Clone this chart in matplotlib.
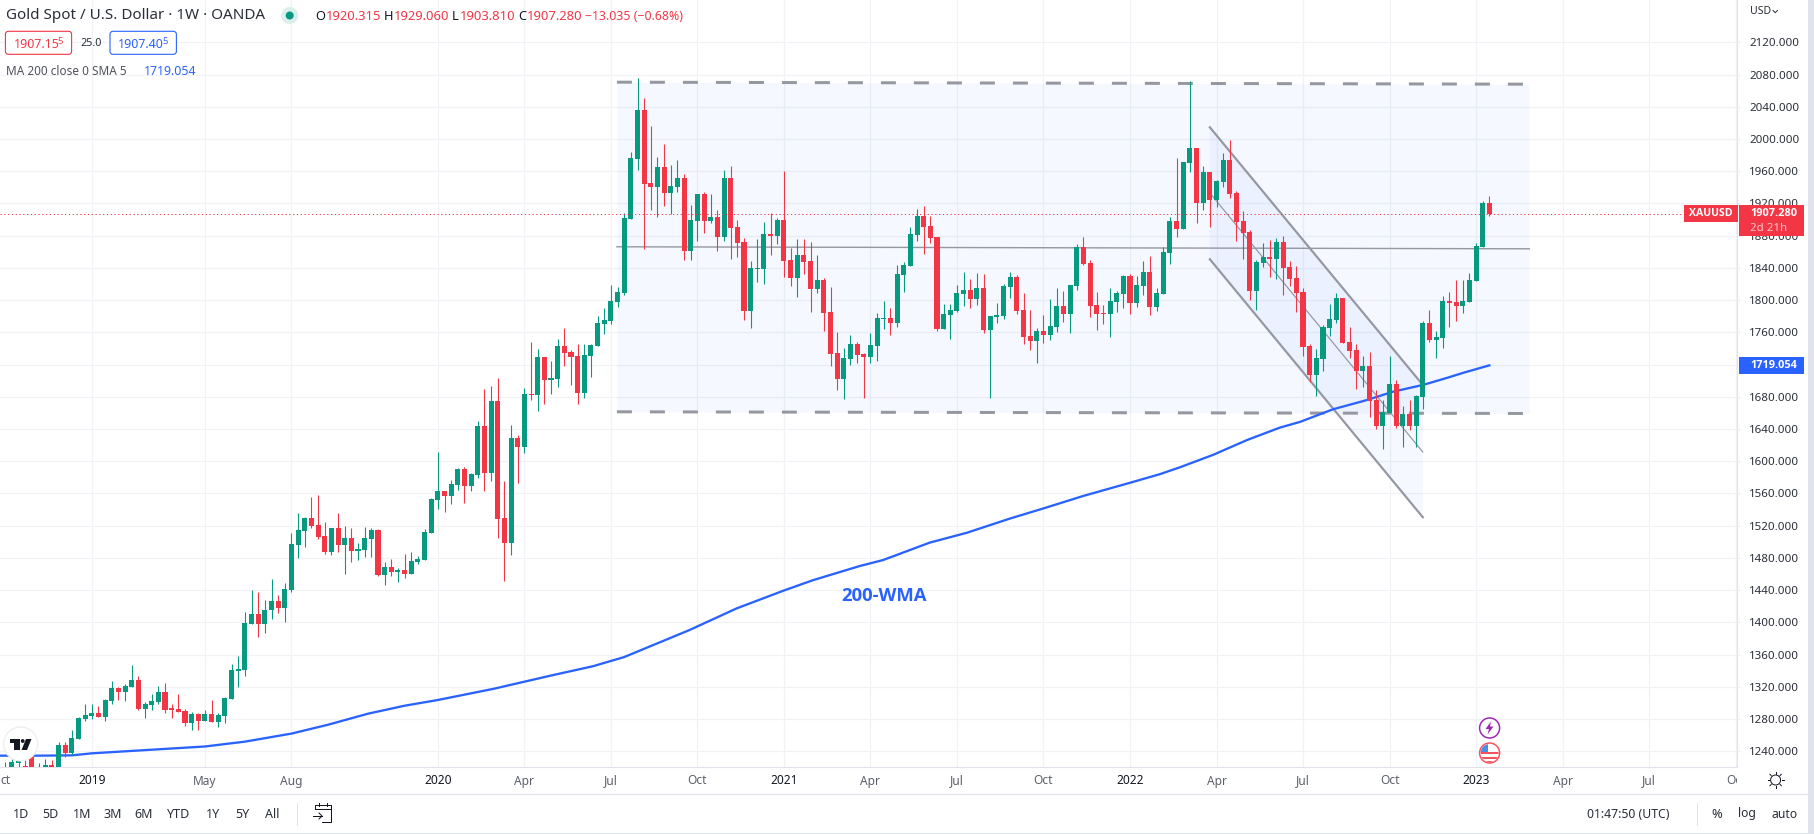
import matplotlib
matplotlib.use("Agg")
import matplotlib.pyplot as plt
from matplotlib.patches import Rectangle, Circle, FancyBboxPatch, Polygon
from matplotlib.transforms import Bbox
import numpy as np

opens = [1200,1215,1225,1222,1233,1212,1218,1223,1215,1248,1237.5,1255.7,1280,1284,1287.6,1282,1303,1318.6,1314,1320,
1328.5,1292.5,1297.5,1301,1313.6,1292.5,1292.5,1290,1275,1286,1277.6,1286,1276,1284,1305,1340,1341,1398,1410,1398,
1415,1427,1418,1440.7,1496.5,1514,1529,1521,1507.7,1488,1517.6,1496.5,1505,1489,1490,1504,1515,1459,1469,1462,
1465.5,1460.6,1475.4,1478,1510.8,1551.8,1563,1556.7,1570.4,1590,1569,1582.8,1643.6,1585,1674.6,1529,1498,1628.7,1617.5,1683.3,
1682,1729,1700.7,1702,1743,1735.4,1730.5,1684.6,1730.5,1743,1770,1774,1797.5,1808.7,1900.5,1975,2035.8,1945,1940,1965,
1932.8,1940,1951.4,1860.8,1898,1931.5,1898,1903,1878,1951.4,1890.6,1872,1786,1838.4,1838.4,1881.9,1879.4,1899,1849.6,1827,
1855.8,1848,1813.6,1824.8,1785,1734,1702,1726.7,1745,1733,1729,1743,1776.4,1777.6,1771.4,1831,1842,1880.6,1904,1891.8,
1878,1764,1781,1786,1807,1812,1801,1814.9,1762.7,1778.9,1780,1816,1828.5,1787.6,1755,1749,1761.5,1756.5,1766.5,1792.5,
1782.6,1817,1865.8,1845.9,1793.8,1783.8,1782.6,1797.5,1807.4,1829.8,1796,1817,1834.7,1791,1807.4,1858,1898,1888,1970,1988.6,
1920,1958.8,1924,1946.4,1973.7,1932.8,1898,1884,1811,1845.9,1853,1850.9,1872,1841,1827,1810,1743,1706.9,1726.7,1765,
1775,1802.5,1747.8,1738,1711.9,1718,1675.9,1643.6,1659.7,1695.7,1643.6,1658.5,1643.6,1679.6,1771.4,1750,1752.8,1798.7,1797.5,1792.5,
1797.5,1823.6,1865.8,1920.315]
highs = [1227,1231,1237,1230,1237.5,1225,1230,1229,1251,1252,1266.5,1282.6,1299,1299,1296,1305,1327,1320,1323.6,1347,
1333.5,1301,1311,1321,1325,1298.7,1311,1292.5,1289,1287.6,1291,1303.7,1287.6,1307.4,1348,1358,1412.5,1440,1438,1428,
1454,1434,1449,1511.4,1536,1531,1556,1558.6,1525,1517.6,1536,1520,1517.6,1499,1519,1517.6,1516,1475.5,1479,1468,
1485,1488,1483,1516.4,1554,1611,1563,1576.6,1591.5,1592.7,1585,1649.8,1689.5,1693,1703,1575,1644.8,1632.4,1690.8,1747.8,
1739,1729,1724,1751.6,1765,1738,1745,1745,1745,1780,1790,1818.6,1816,1908,1983.7,2075.5,2050.7,2016,1977.5,1993.6,
1967.5,1973.7,1956,1918,1931.5,1934,1931.5,1911.7,1961,1966,1899,1877,1848,1875.7,1896.8,1908,1901.7,1960,1864.5,1875.7,
1875.7,1872,1855.8,1827,1816,1760,1740,1756.5,1747.8,1734,1759,1783.8,1798.7,1790,1843.4,1847,1890.6,1913,1916.6,1904,
1878,1795,1795,1818.6,1834.7,1826,1833.5,1832,1780,1796,1819.8,1834.7,1831,1808.7,1787.6,1765,1781,1801,1814.9,1811,
1818.6,1869.5,1878,1849.6,1810,1793.8,1814.9,1811,1831,1832,1829.8,1848,1854.6,1814.9,1865.8,1903,1976.4,1971,2071.8,1988.6,
1966,1958.8,1949,1982.4,1998.5,1935,1910.4,1886.9,1849.6,1870.7,1874.4,1877,1879.4,1848,1842,1814.9,1745,1739,1769,1795,
1808.7,1802.5,1766.5,1745,1730.5,1735.4,1688,1675.9,1730.5,1700.7,1668.4,1675.9,1682,1773.9,1787.6,1761.5,1804.9,1810,1824.8,1824.8,
1833.5,1870.7,1922.8,1929.06]
lows = [1195,1205,1215,1205,1205,1205,1210,1205,1208,1233,1235.5,1255.7,1278,1280,1282,1278,1299,1303.7,1302.5,1320,
1291,1281,1291,1298.7,1287.6,1281,1289,1271,1266.5,1266.5,1277.6,1276,1270,1275,1305,1320,1333.5,1398,1382,1387,
1404,1412,1401,1438,1480,1494,1517.6,1504,1485,1484,1488,1460.6,1475,1478,1481.7,1481.7,1457,1447,1457,1450.6,
1455.6,1460.6,1472,1478,1510.8,1540.6,1536.9,1546.8,1564,1548,1563,1579,1563,1575,1504.6,1451,1483.5,1573,1610,1675.9,
1662,1671,1683,1692,1718,1694.5,1671,1678,1704,1743,1758,1770,1791,1806,1900.5,1961,1863,1911.7,1903,1916.6,
1906.7,1934,1849.6,1849.6,1873,1883,1895.5,1860.8,1874,1851,1853,1775,1765,1822,1819.8,1855.8,1869.5,1828.5,1817,1803.7,
1832,1785,1808.7,1761.5,1718,1688,1677,1719,1721.8,1678,1721.8,1724,1764,1756.5,1766.5,1810,1842,1873,1857,1870.7,
1761.5,1764,1751.6,1785,1792.5,1790,1793.8,1759,1678,1771.4,1776.4,1802.5,1782.6,1745,1738,1721.8,1746.6,1750,1760,1772.7,
1759,1812.4,1843.4,1778.9,1762.7,1770,1754,1785,1790,1782.6,1791,1806,1781,1786,1807.4,1844.7,1878,1888,1958.8,1895.5,
1911.7,1890.6,1915,1940,1926.6,1873,1850.9,1800,1787.6,1841,1828.5,1826,1806,1817,1785,1730.5,1698,1680.8,1711.9,1755,
1771.4,1746.6,1728,1689.5,1692,1654.8,1640,1615,1659.7,1641,1617.5,1638.6,1617.5,1664.7,1747.8,1728,1740,1766.5,1773.9,1783.8,
1797.5,1823.6,1865.8,1903.81]
closes = [1215,1227,1229,1210,1215,1220,1223,1215,1248,1238,1256.5,1281.4,1285,1287.6,1282,1303.7,1318.6,1314,1321,1328.5,
1292.5,1298.7,1302.5,1313.6,1291,1291.7,1289,1275,1286,1277.6,1286,1276,1285,1306,1341,1342,1399,1410,1398,1416,
1427,1418,1441.5,1497.8,1515,1529,1520,1506.5,1488,1517.6,1496.5,1505,1489,1491.6,1505,1515,1459,1469,1462,1465.5,
1460.6,1476.7,1479,1512.7,1553,1563,1556.7,1571.6,1590,1569,1584,1643.6,1585,1674.6,1528,1498,1628.7,1617.5,1683.3,1682,
1729,1700.7,1703,1743,1734,1729,1684.6,1731.7,1744,1771.4,1775,1798.7,1810,1901.7,1976,2035.8,1944,1940,1965,1932.8,
1941.5,1951.4,1860.8,1899,1931.5,1898,1903,1878,1951.4,1889,1870.7,1786,1839.7,1839.7,1881.9,1879.4,1899,1848,1827,1855.8,
1847,1813.6,1824.8,1783.8,1733,1702,1728,1745,1731.7,1729,1744,1777.6,1777.6,1771.4,1832,1843.4,1881.9,1904,1890.6,1877,
1764,1782.6,1787.6,1808.7,1812,1801,1814.9,1762.7,1780,1781,1817,1828.5,1786,1754,1749,1761.5,1756.5,1767.7,1792.5,1782.6,
1818.6,1865.8,1844.7,1792.5,1782.6,1782.6,1798.7,1808.7,1829.8,1796,1818.6,1834.7,1791,1808.7,1859.5,1898,1888,1971,1988.6,1920,
1958.8,1924,1947.7,1973.7,1931.5,1896.8,1883,1811,1847,1853,1850.9,1872,1839.7,1826,1808.7,1741.6,1706.9,1728,1766.5,1776.4,
1802.5,1746.6,1736.7,1711.9,1718,1674.6,1643.6,1661,1695.7,1643.6,1658.5,1643.6,1680.8,1771.4,1750,1754,1798.7,1796,1792.5,1798.7,
1824.8,1867,1920,1907.28]

ma_weeks = [-1,5,10,13,20,30,36,43,48.5,54.5,60,65,73.5,75,82.4,88.3,93,102.8,109.9,116.9,121.4,128.4,131.9,138.9,144.5,151,156,162,169,173.5,176.5,181.5,186.6,191.5,194.6,199.5,204.6,208.5,213,216.6,219,223]
ma_values = [1234.6,1234.6,1235,1237.5,1241,1246,1252,1262,1273,1286.7,1296.6,1303.7,1317.8,1320.7,1334.8,1345.6,1357,1390.5,1417.4,1439.3,1452.5,1470,1477.4,1499,1511.3,1529,1541.5,1557,1573.3,1584,1592.5,1608,1626.4,1641.7,1649,1664.5,1676,1686.3,1694.7,1703.4,1709.6,1719.054]

price_ticks = list(range(1240, 2121, 40))
tick_weeks = [13,30,43,65,78,91,104,117,130,143,156,169,182,195,208,221,234,247,260]
tick_names = ["2019","May","Aug","2020","Apr","Jul","Oct","2021","Apr","Jul","Oct","2022","Apr","Jul","Oct","2023","Apr","Jul","Oct"]
range_buttons = ["1D","5D","1M","3M","6M","YTD","1Y","5Y","All"]

range_week = [91.9, 229.0]
range_top = [2070.5, 2068.0]
range_mid = [1866.2, 1863.7]
range_bottom = [1661.4, 1659.3]
channel_week = [181.0, 213.0]
channel_upper = [2014.5, 1694.7]
channel_middle = [1933.0, 1611.5]
channel_lower = [1850.7, 1530.5]

FONT = ["Noto Sans", "DejaVu Sans"]
BOLD = ["Open Sans", "DejaVu Sans"]
plt.rcParams["font.family"] = FONT
GREEN, RED, BLUE = "#089981", "#f23645", "#2962ff"
GRID, EDGE, DRAW, INK, MUTED = "#f0f2f6", "#e0e3eb", "#9598a1", "#131722", "#6a6d78"
PX = 0.72
W, H = 1815, 834
fig = plt.figure(figsize=(W/100, H/100), dpi=100, facecolor="white")

AX_R, AX_B = 1737, 767
ax = fig.add_axes([0, (H-AX_B)/H, AX_R/W, AX_B/H], zorder=1)
x_per_week, x0 = 6.655, 5.3
xlim = (-x0/x_per_week, (AX_R-x0)/x_per_week)
px_per_usd, y2120 = 0.8057, 42.3
ylim = (2120-(AX_B-y2120)/px_per_usd, 2120+y2120/px_per_usd)
ax.set_xlim(*xlim); ax.set_ylim(*ylim)
ax.set_facecolor("white")

for s in ("top", "left"):
    ax.spines[s].set_visible(False)
for s in ("right", "bottom"):
    ax.spines[s].set_color(EDGE); ax.spines[s].set_linewidth(1.1*PX)

ax.yaxis.tick_right()
ax.set_yticks(price_ticks)
ax.set_yticklabels([f"{p:.3f}" for p in price_ticks], fontsize=8.3, color="#2a2e39")
ax.tick_params(axis="y", length=3*PX, width=PX, color=GRID, pad=9*PX)
ax.set_xticks(tick_weeks)
ax.set_xticklabels(tick_names, fontsize=8.6)
ax.tick_params(axis="x", length=0, pad=7.5*PX)
clip = Bbox([[0, 0], [AX_R, H]])
for lab, name in zip(ax.get_xticklabels(), tick_names):
    year = name.isdigit()
    lab.set_color(INK if year else "#5d606b")
    lab.set_clip_box(clip); lab.set_clip_on(True)
ax.grid(True, color=GRID, lw=1.2*PX, zorder=0)
ax.set_axisbelow(True)

weeks = np.arange(len(opens))
# drawings
ax.fill_between(range_week, range_bottom, range_top, color=BLUE, alpha=0.045, lw=0, zorder=1)
ax.add_patch(Polygon([(channel_week[0], channel_upper[0]), (channel_week[1], channel_upper[1]),
                      (channel_week[1], channel_lower[1]), (channel_week[0], channel_lower[0])],
                     closed=True, facecolor=BLUE, alpha=0.045, lw=0, zorder=1))
for yy in (range_top, range_bottom):
    ax.plot(range_week[:2], yy, color=DRAW, lw=3*PX, ls=(0, (5, 6)), dash_capstyle="butt", zorder=2)
ax.plot(range_week, range_mid, color=DRAW, lw=1.4*PX, zorder=2)
ax.plot(channel_week, channel_upper, color=DRAW, lw=2.2*PX, zorder=2)
ax.plot(channel_week, channel_lower, color=DRAW, lw=2.2*PX, zorder=2)
ax.plot(channel_week, channel_middle, color=DRAW, lw=1.2*PX, zorder=2)
ax.plot(ma_weeks, ma_values, color=BLUE, lw=2.3*PX, zorder=3, solid_joinstyle="round")
# candles
o, h, l, c = map(np.array, (opens, highs, lows, closes))
cols = np.where(c >= o, GREEN, RED)
ax.vlines(weeks, l, h, colors=cols, lw=1.1*PX, zorder=4)
ax.bar(weeks, np.maximum(np.abs(c-o), 1.5), bottom=np.minimum(o, c), width=0.76, color=cols, lw=0, zorder=5)
# last price line
ax.hlines(closes[-1], xlim[0], (1684-x0)/x_per_week, colors=RED, lw=1.0*PX, linestyles=(0, (1.2, 2.6)), zorder=6)

# ---- interface chrome, in pixel coordinates
ui = fig.add_axes([0, 0, 1, 1], zorder=2)
ui.set_xlim(0, W); ui.set_ylim(H, 0); ui.axis("off")
def T(x, y, s, size=11.5, color=INK, ha="left", weight="normal", family=None):
    return ui.text(x, y, s, fontsize=size*PX, color=color, ha=ha, va="center", fontweight=weight,
                   family=family if family else FONT)
def rect(x0_, y0_, x1_, y1_, **kw):
    ui.add_patch(Rectangle((x0_, y0_), x1_-x0_, y1_-y0_, lw=0, **kw))

rect(1808, 0, W, H, color=EDGE)
rect(0, 833, W, H, color=EDGE)
ui.plot([0, 1808], [794, 794], color=EDGE, lw=1.3*PX)
ui.plot([297, 297], [803, 825], color=EDGE, lw=PX)
ui.plot([1697, 1697], [803, 825], color=EDGE, lw=PX)

# time scale label cut at the left edge of the chart, as in the reference
T(0, 780, "ct", 11.9, "#5d606b")

# header
T(5.7, 15.5, "Gold Spot / U.S. Dollar · 1W · OANDA", 15.2, "#2a2e39")
ui.add_patch(Circle((289.7, 15.5), 8.5, fc="#d9f0ec", lw=0))
ui.add_patch(Circle((289.7, 15.5), 4, fc=GREEN, lw=0))
for x, s, col, sz in [(315.7, "O", INK, 12.8), (325.7, "1920.315", RED, 13), (383.9, "H", INK, 12.8), (393.4, "1929.060", RED, 13),
                      (451.6, "L", INK, 12.8), (459.6, "1903.810", RED, 13), (517.8, "C", INK, 12.8), (527.3, "1907.280", RED, 13),
                      (585.5, "−13.035 (−0.68%)", RED, 12.3)]:
    T(x, 16.5, s, sz, col)
for x0b, x1b, col, s in [(5.4, 71.6, RED, "1907.15"), (110, 176.4, BLUE, "1907.40")]:
    ui.add_patch(FancyBboxPatch((x0b+2, 33.3), x1b-x0b-4, 19, boxstyle="round,pad=2,rounding_size=3",
                                fc="white", ec=col, lw=1.1*PX))
    T(x0b+8, 44, s, 12.4, col)
    T(x0b+52.5, 41.5, "5", 9.5, col)
T(80.7, 43, "25.0", 10.8, "#2a2e39")
T(5.7, 71.7, "MA 200 close 0 SMA 5", 11.8, "#50535e")
T(143.5, 71.7, "1719.054", 12.3, BLUE)

# price scale labels
T(1750, 11.7, "USD", 10.5, "#2a2e39")
ui.plot([1773, 1775.2, 1777.4], [10.5, 12.7, 10.5], color="#2a2e39", lw=PX)
rect(1684, 205, 1738, 221.7, color=RED)
T(1711, 213.5, "XAUUSD", 10.5, "white", ha="center", weight="bold", family=BOLD)
rect(1739, 205, 1804, 236, color=RED)
T(1750, 213.5, "1907.280", 11, "white", weight="bold", family=BOLD)
T(1750, 228, "2d 21h", 11.5, "#fbc4ca")
rect(1739, 357.3, 1804, 374, color=BLUE)
T(1750, 365.8, "1719.054", 11, "white", weight="bold", family=BOLD)

# annotation
T(884, 596, "200-WMA", 18.5, BLUE, ha="center", weight="bold", family=BOLD)

# range buttons
for x, s in zip([21, 50.6, 82, 113, 144, 178.7, 213, 242, 272.4], range_buttons):
    T(x, 814, s, 12.5, "#2a2e39", ha="center")
# calendar icon
ui.plot([315, 315, 331, 331, 322], [808, 804.5, 804.5, 822, 822], color="#131722", lw=PX)
ui.plot([315, 331], [809, 809], color="#131722", lw=PX)
ui.plot([319, 319], [802.5, 806], color="#131722", lw=PX)
ui.plot([327, 327], [802.5, 806], color="#131722", lw=PX)
ui.plot([313, 322], [816, 816], color="#131722", lw=PX)
ui.plot([319, 322, 319], [813, 816, 819], color="#131722", lw=PX)
# footer right
T(1587, 814, "01:47:50 (UTC)", 12.2, "#2a2e39")
T(1717, 814, "%", 13, "#2a2e39", ha="center")
T(1747, 814, "log", 12.2, "#2a2e39", ha="center")
T(1785, 814, "auto", 12.2, "#2a2e39", ha="center")
# sun icon
ui.add_patch(Circle((1775.6, 780), 5, fc="white", ec="#131722", lw=PX))
for a in np.arange(8)*np.pi/4:
    ui.plot([1775.6+6.3*np.cos(a), 1775.6+8*np.cos(a)], [780+6.3*np.sin(a), 780+8*np.sin(a)], color="#131722", lw=PX)

# chart logo
ui.add_patch(Circle((20.7, 744), 17, fc="white", ec="#ececec", lw=1.2*PX))
rect(10, 739, 20.5, 742.5, color="#131722")
rect(14.5, 739, 20.5, 750, color="#131722")
ui.add_patch(Circle((22.7, 741), 1.9, fc="#131722", lw=0))
ui.add_patch(Polygon([(26, 739), (31.5, 739), (27, 750), (21.5, 750)], fc="#131722", lw=0))

# event icons
ui.add_patch(Circle((1489.6, 728), 10, fc="white", ec="#9c27b0", lw=1.5*PX))
ui.add_patch(Polygon([(1491, 721.5), (1485.5, 729), (1489, 729), (1487.5, 734.5), (1493.5, 726.5), (1490, 726.5)], fc="#9c27b0", lw=0))
flag = Circle((1489.6, 753), 9, fc="white", lw=0)
ui.add_patch(flag)
for yy in (751.5, 756.5, 760.5):
    r = Rectangle((1479, yy), 21, 2.4, fc="#f7525f", lw=0); ui.add_patch(r); r.set_clip_path(flag)
r = Rectangle((1479, 744), 9.5, 8, fc="#4a90e2", lw=0); ui.add_patch(r); r.set_clip_path(flag)
ui.add_patch(Circle((1489.6, 753), 10, fc="none", ec="#f7525f", lw=1.5*PX))

fig.savefig("out.png", dpi=100, facecolor="white")
